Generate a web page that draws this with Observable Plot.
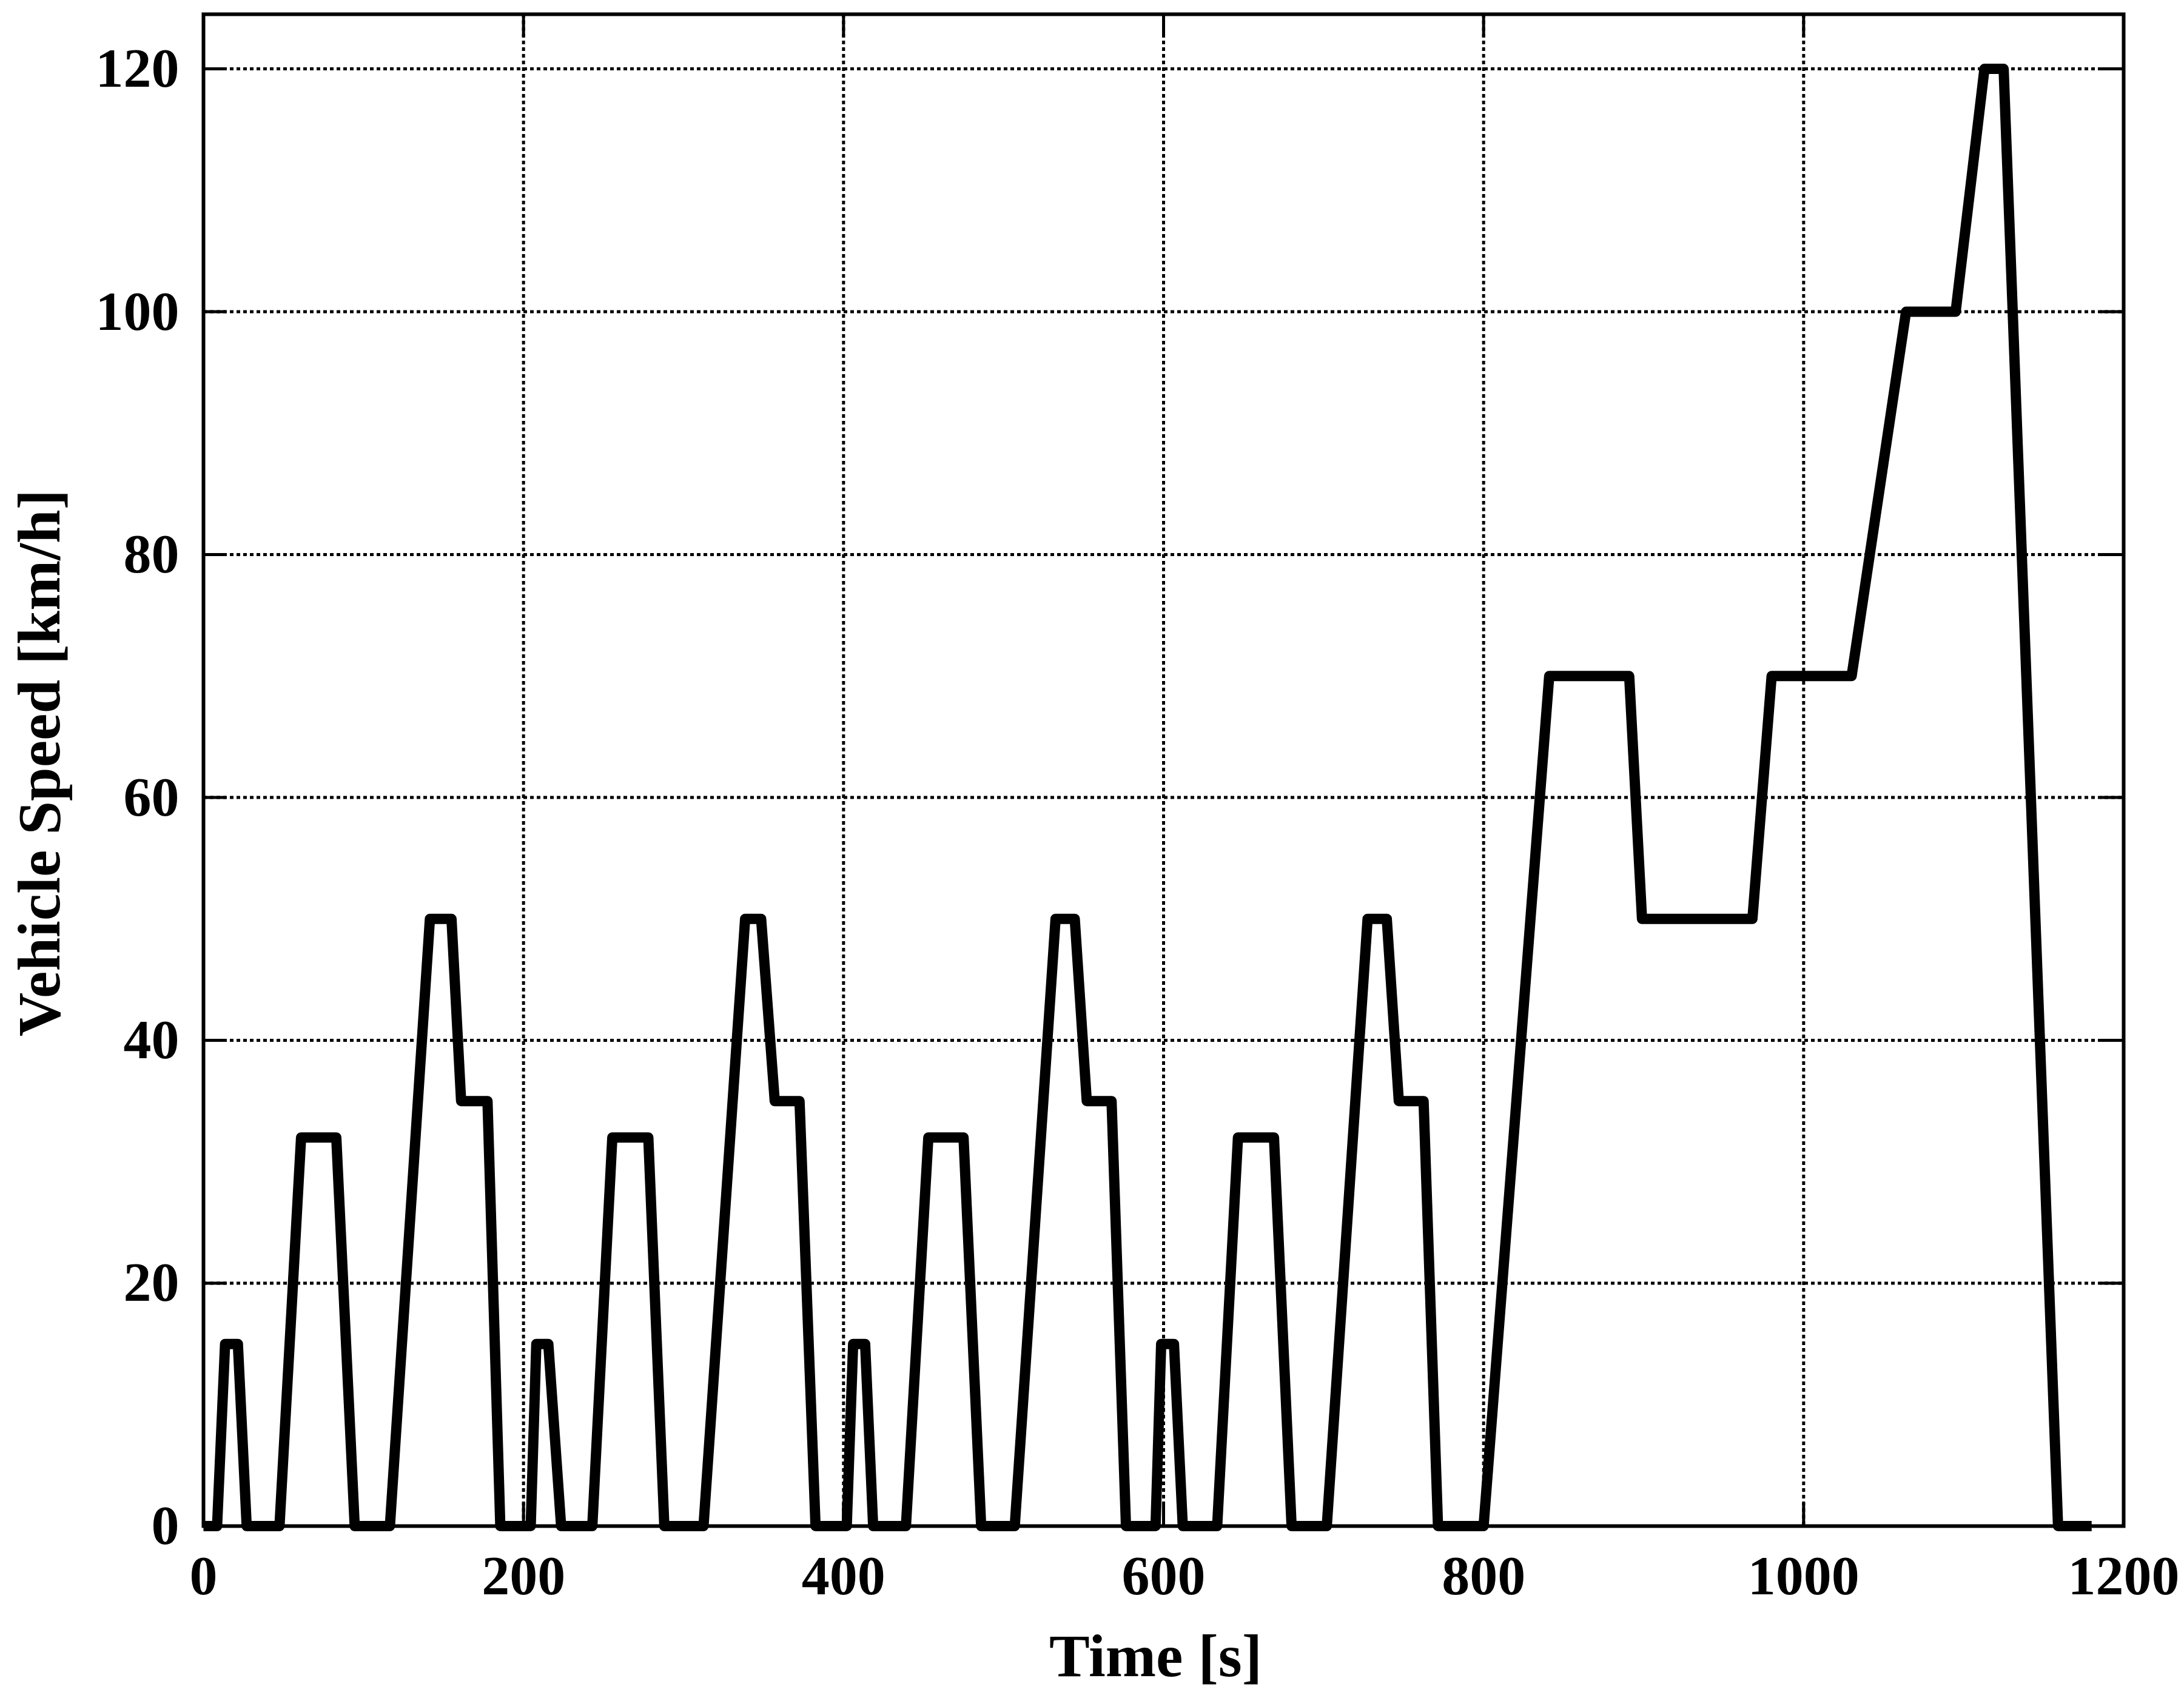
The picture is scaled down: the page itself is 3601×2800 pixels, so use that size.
<!DOCTYPE html>
<html>
<head>
<meta charset="utf-8">
<script src="https://cdn.jsdelivr.net/npm/d3@7"></script>
<script src="https://cdn.jsdelivr.net/npm/@observablehq/plot@0.6"></script>
<style>
  html, body { margin: 0; padding: 0; background: #fff; }
</style>
</head>
<body>
<div id="chart"></div>
<script>
// Time [s] breakpoints of the NEDC speed trace
const timeS = [
  0, 8.5, 13.5, 21.5, 27, 47.5, 61, 83, 94.5, 116.5, 141.5, 155, 161, 177.5, 185.5,
  204.5, 208, 215.5, 223.5, 243, 255.5, 278, 288, 312.5, 338.5, 348.5, 357, 372.5, 382.5,
  402, 406, 413.5, 418.5, 439, 453, 475, 486, 507, 532.5, 544.5, 552, 567.5, 576.5,
  595, 598.5, 606.5, 612, 633.5, 646.5, 669, 680, 702, 727.5, 739.5, 747, 762.5, 771.5,
  800, 841, 891, 899, 968, 980, 1030, 1064, 1095, 1113, 1125, 1159, 1180
];
// Vehicle speed [km/h] at each breakpoint
const speedKmh = [
  0, 0, 15, 15, 0, 0, 32, 32, 0, 0, 50, 50, 35, 35, 0,
  0, 15, 15, 0, 0, 32, 32, 0, 0, 50, 50, 35, 35, 0,
  0, 15, 15, 0, 0, 32, 32, 0, 0, 50, 50, 35, 35, 0,
  0, 15, 15, 0, 0, 32, 32, 0, 0, 50, 50, 35, 35, 0,
  0, 70, 70, 50, 50, 70, 70, 100, 100, 120, 120, 0, 0
];
const xTicks = [0, 200, 400, 600, 800, 1000, 1200];
const yTicks = [0, 20, 40, 60, 80, 100, 120];
const xLabel = "Time [s]";
const yLabel = "Vehicle Speed [km/h]";

const data = timeS.map((t, i) => ({t, v: speedKmh[i]}));

const W = 3601, H = 2800;
const mL = 335, mR = 100, mT = 23, mB = 284;
const plotW = W - mL - mR, plotH = H - mT - mB;
const tickLen = 38;
const font = "'Liberation Serif', 'Times New Roman', serif";

const chart = Plot.plot({
  width: W,
  height: H,
  marginLeft: mL,
  marginRight: mR,
  marginTop: mT,
  marginBottom: mB,
  style: {background: "#fff", color: "#000", fontFamily: font, fontSize: "92px", fontWeight: "bold"},
  x: {domain: [0, 1200], ticks: xTicks, tickSize: 0, tickPadding: 47, tickFormat: d => String(d), label: null},
  y: {domain: [0, 124.5], ticks: yTicks, tickSize: 0, tickPadding: 40, tickFormat: d => String(d), label: null},
  marks: [
    Plot.ruleX(xTicks, {x: d => d, stroke: "#000", strokeWidth: 5, strokeDasharray: "6,5"}),
    Plot.ruleY(yTicks, {y: d => d, stroke: "#000", strokeWidth: 5, strokeDasharray: "6,5"}),
    Plot.tickY(yTicks, {y: d => d, stroke: "#000", strokeWidth: 5, insetRight: plotW - tickLen}),
    Plot.tickY(yTicks, {y: d => d, stroke: "#000", strokeWidth: 5, insetLeft: plotW - tickLen}),
    Plot.tickX(xTicks, {x: d => d, stroke: "#000", strokeWidth: 5, insetTop: plotH - tickLen}),
    Plot.tickX(xTicks, {x: d => d, stroke: "#000", strokeWidth: 5, insetBottom: plotH - tickLen}),
    Plot.frame({stroke: "#000", strokeWidth: 6}),
    Plot.line(data, {x: "t", y: "v", stroke: "#000", strokeWidth: 17, strokeLinejoin: "round", strokeLinecap: "butt"}),
    Plot.text([xLabel], {frameAnchor: "bottom", text: d => d, textAnchor: "middle", lineAnchor: "bottom", dy: 247, dx: -13,
      fontSize: 100, fontWeight: "bold", fontFamily: font, fill: "#000"}),
    Plot.text([yLabel], {frameAnchor: "left", text: d => d, textAnchor: "middle", rotate: -90, lineAnchor: "bottom", dx: -238, dy: -12,
      fontSize: 100, fontWeight: "bold", fontFamily: font, fill: "#000"})
  ]
});
document.getElementById("chart").appendChild(chart);
</script>
</body>
</html>
